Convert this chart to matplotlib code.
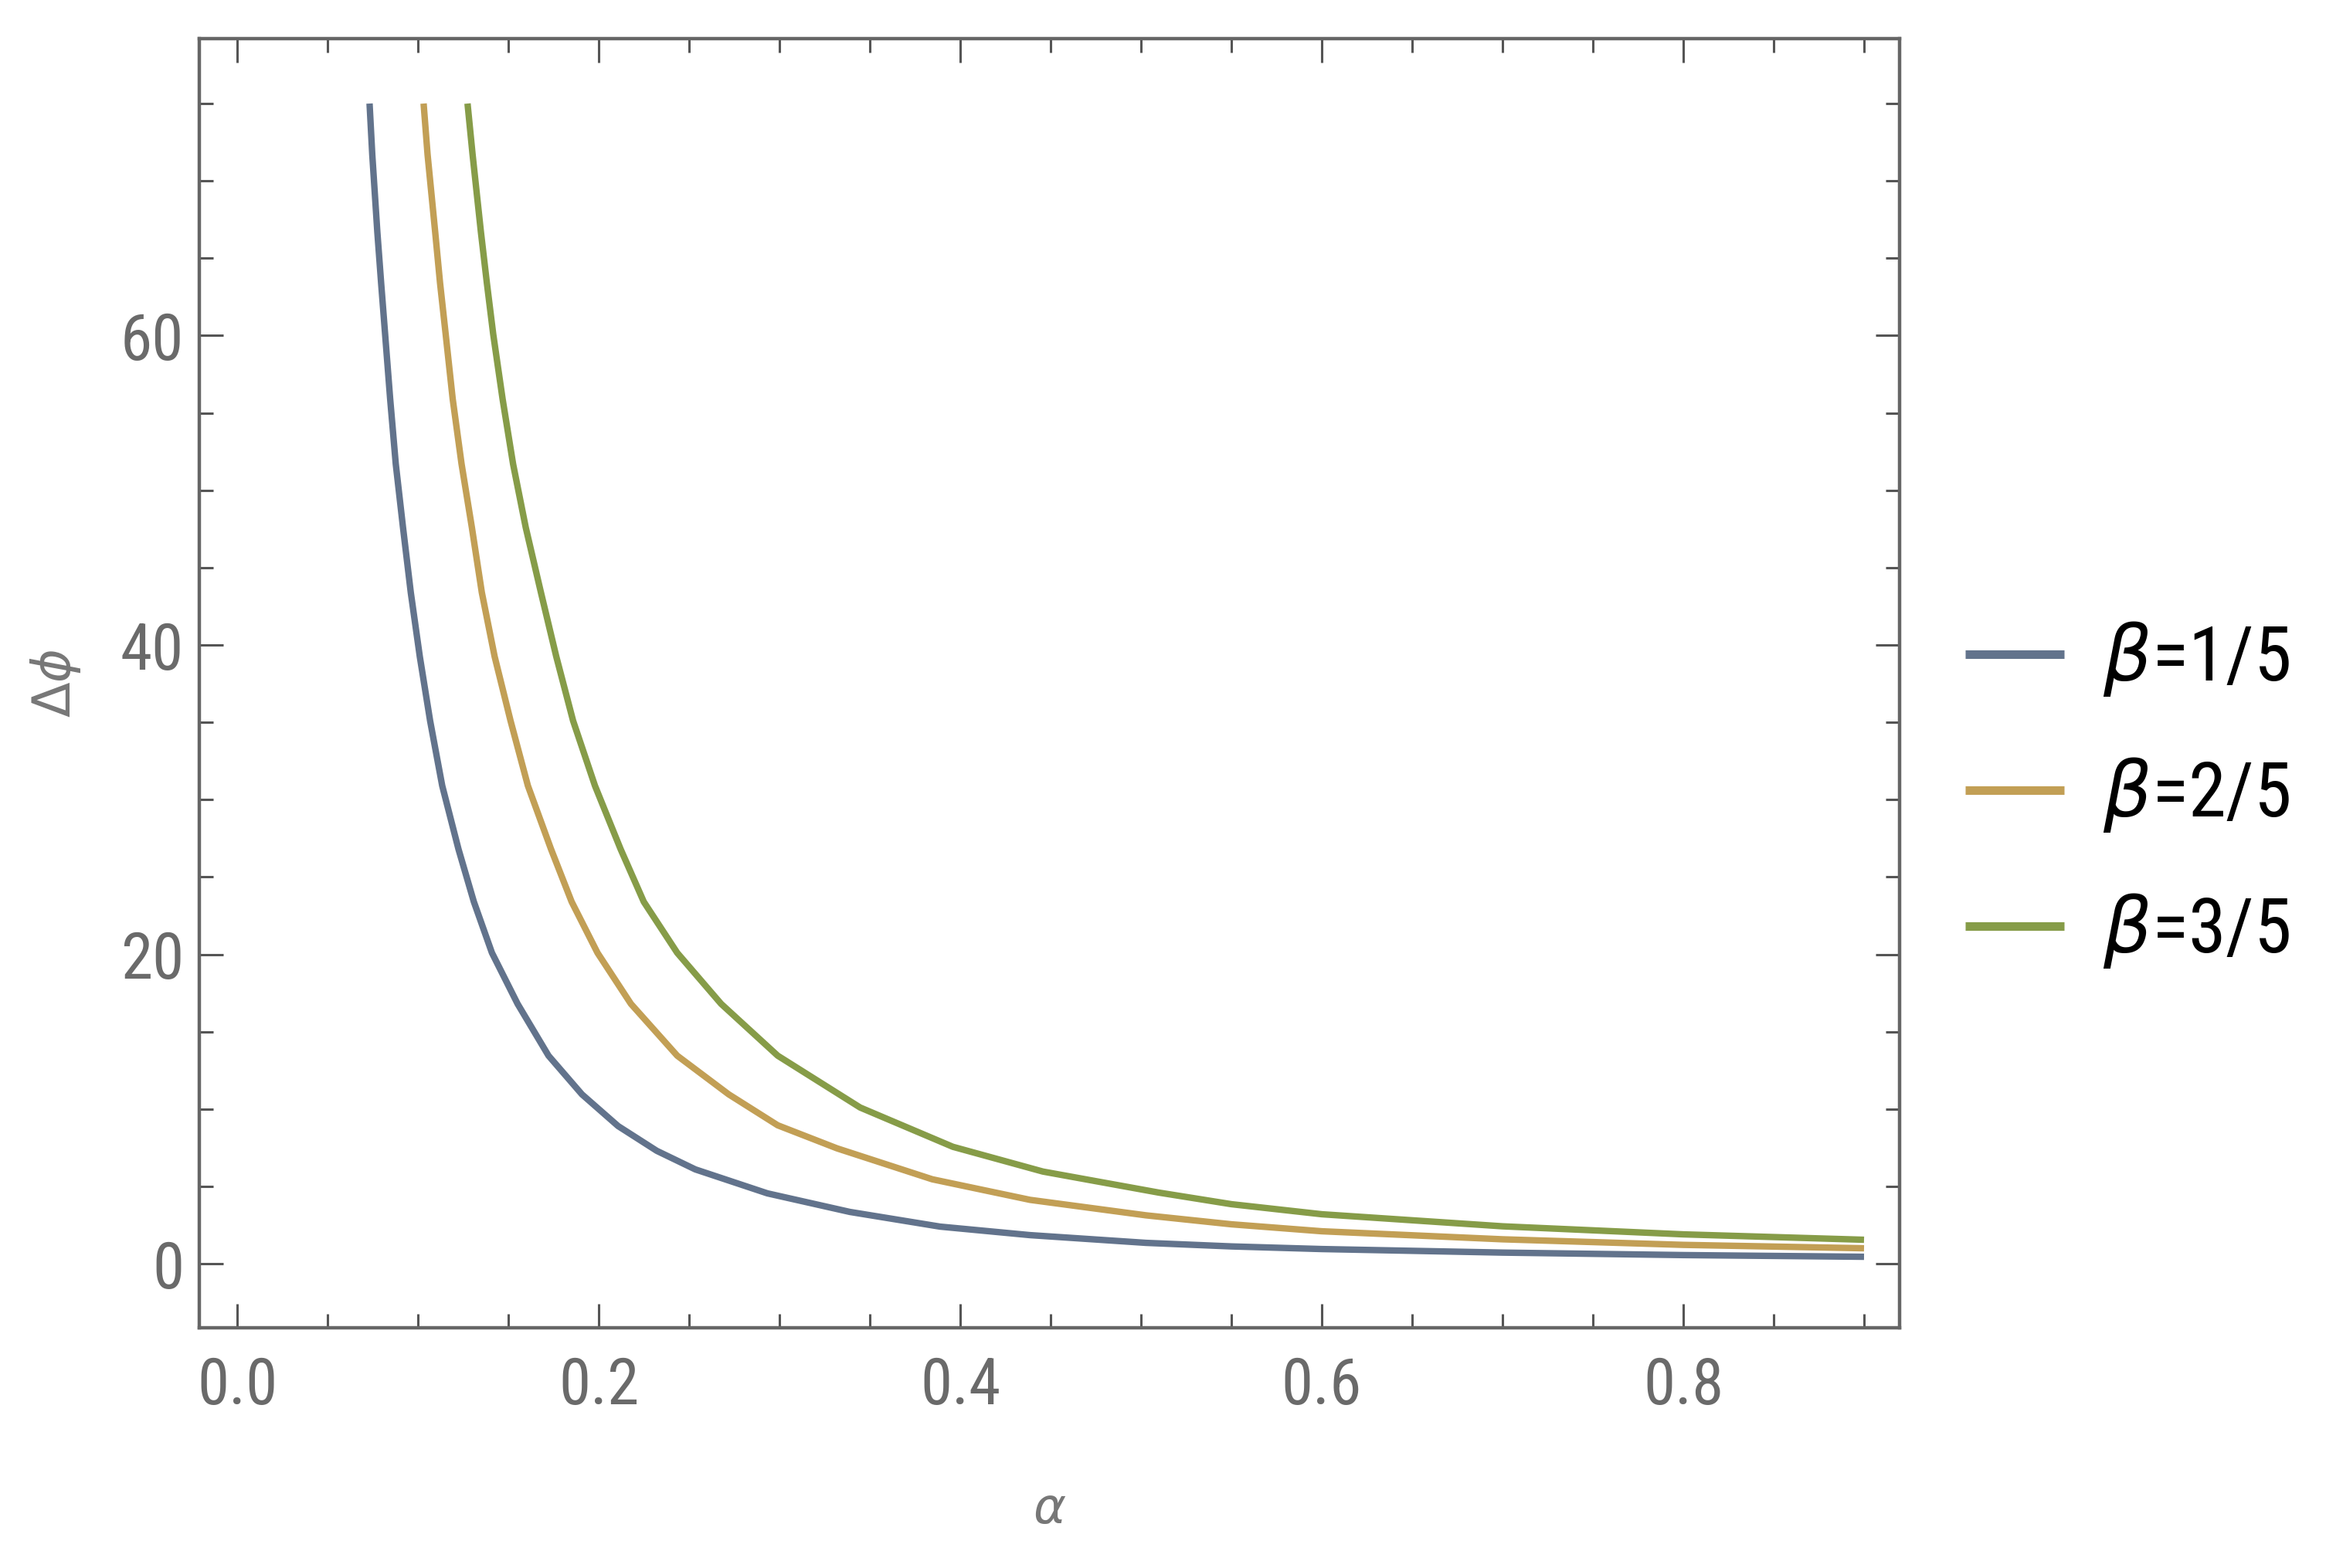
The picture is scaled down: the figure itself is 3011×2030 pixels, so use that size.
import matplotlib
matplotlib.use("Agg")
import matplotlib.pyplot as plt
from matplotlib import font_manager
from matplotlib.ticker import MultipleLocator

# ---- data ----
alpha_b1 = [0.0732, 0.0747, 0.0775, 0.0796, 0.0818, 0.0846, 0.0877, 0.0917, 0.0960,
            0.1010, 0.1067, 0.1134, 0.1224, 0.1309, 0.1409, 0.1551, 0.1722, 0.1907,
            0.2107, 0.2321, 0.2534, 0.2933, 0.3389, 0.3888, 0.4386, 0.5027, 0.55,
            0.60, 0.70, 0.80, 0.90]
dphi_b1 = [75.0, 71.7, 66.7, 63.4, 60.1, 55.9, 51.7, 47.6, 43.4,
           39.25, 35.1, 30.9, 26.8, 23.4, 20.1, 16.8, 13.45, 10.95,
           8.9, 7.3, 6.1, 4.55, 3.35, 2.40, 1.85, 1.35, 1.12,
           0.95, 0.72, 0.56, 0.45]

alpha_b2 = [0.1031, 0.1053, 0.1095, 0.1122, 0.1153, 0.1192, 0.1241, 0.1298, 0.1353,
            0.1424, 0.1512, 0.1608, 0.1736, 0.1850, 0.1993, 0.2178, 0.2434, 0.2719,
            0.2990, 0.3318, 0.3845, 0.4386, 0.5027, 0.55, 0.60, 0.70, 0.80, 0.90]
dphi_b2 = [75.0, 71.7, 66.7, 63.4, 60.1, 55.9, 51.7, 47.6, 43.4,
           39.25, 35.1, 30.9, 26.8, 23.4, 20.1, 16.8, 13.45, 10.95,
           8.95, 7.46, 5.46, 4.13, 3.13, 2.55, 2.10, 1.58, 1.22, 1.00]

alpha_b3 = [0.1274, 0.1302, 0.1348, 0.1381, 0.1416, 0.1468, 0.1526, 0.1596, 0.1680,
            0.1765, 0.1858, 0.1979, 0.2121, 0.2249, 0.2434, 0.2677, 0.2990, 0.3446,
            0.3959, 0.4457, 0.5098, 0.55, 0.60, 0.70, 0.80, 0.90]
dphi_b3 = [75.0, 71.7, 66.7, 63.4, 60.1, 55.9, 51.7, 47.6, 43.4,
           39.25, 35.1, 30.9, 26.8, 23.4, 20.1, 16.8, 13.45, 10.1,
           7.56, 5.96, 4.6, 3.85, 3.2, 2.42, 1.90, 1.55]

series_labels = [r"$\beta$=1/5", r"$\beta$=2/5", r"$\beta$=3/5"]
series_colors = ["#62738c", "#c29f55", "#869c48"]

# ---- fonts ----
avail = {f.name for f in font_manager.fontManager.ttflist}
narrow = next((n for n in ["Liberation Sans Narrow", "Roboto Condensed", "DejaVu Sans"]
               if n in avail), "DejaVu Sans")
plt.rcParams["font.family"] = [narrow, "DejaVu Sans"]
plt.rcParams["mathtext.fontset"] = "dejavusans"

fig = plt.figure(figsize=(30.11, 20.30), dpi=100)
fig.patch.set_facecolor("white")
ax = fig.add_axes([0.0856, 0.1532, 0.8167 - 0.0856, 0.9755 - 0.1532])

for xs, ys, c, lab in zip([alpha_b1, alpha_b2, alpha_b3],
                          [dphi_b1, dphi_b2, dphi_b3],
                          series_colors, series_labels):
    ax.plot(xs, ys, color=c, lw=6.0, label=lab, solid_capstyle="butt",
            solid_joinstyle="round")

ax.set_xlim(-0.0211, 0.9197)
ax.set_ylim(-4.14, 79.21)
ax.xaxis.set_major_locator(MultipleLocator(0.2))
ax.xaxis.set_minor_locator(MultipleLocator(0.05))
ax.yaxis.set_major_locator(MultipleLocator(20))
ax.yaxis.set_minor_locator(MultipleLocator(5))

ax.tick_params(which="both", direction="in", top=True, right=True,
               color="#555555", width=2.2)
ax.tick_params(which="major", length=22)
ax.tick_params(which="minor", length=13)
ax.tick_params(axis="x", pad=26, labelsize=60, labelcolor="#6a6a6a")
ax.tick_params(axis="y", pad=14, labelsize=60, labelcolor="#6a6a6a")
for s in ax.spines.values():
    s.set_color("#666666")
    s.set_linewidth(3.2)

ax.set_xlabel(r"$\alpha$", fontsize=46, color="#777777")
ax.xaxis.label.set_va("center")
ax.xaxis.set_label_coords(0.5, -0.141)
ax.set_ylabel(r"$\Delta\phi$", fontsize=48, color="#777777")
ax.yaxis.label.set_va("center")
ax.yaxis.set_label_coords(-0.0843, 0.5)

leg = ax.legend(loc="center left", bbox_to_anchor=(0.845, 0.493),
                bbox_transform=fig.transFigure, frameon=False, fontsize=71,
                handlelength=1.3, handletextpad=0.5, labelspacing=0.75,
                borderpad=0, borderaxespad=0)
for line in leg.get_lines():
    line.set_linewidth(8)

fig.savefig("out.png", dpi=100, facecolor="white")
